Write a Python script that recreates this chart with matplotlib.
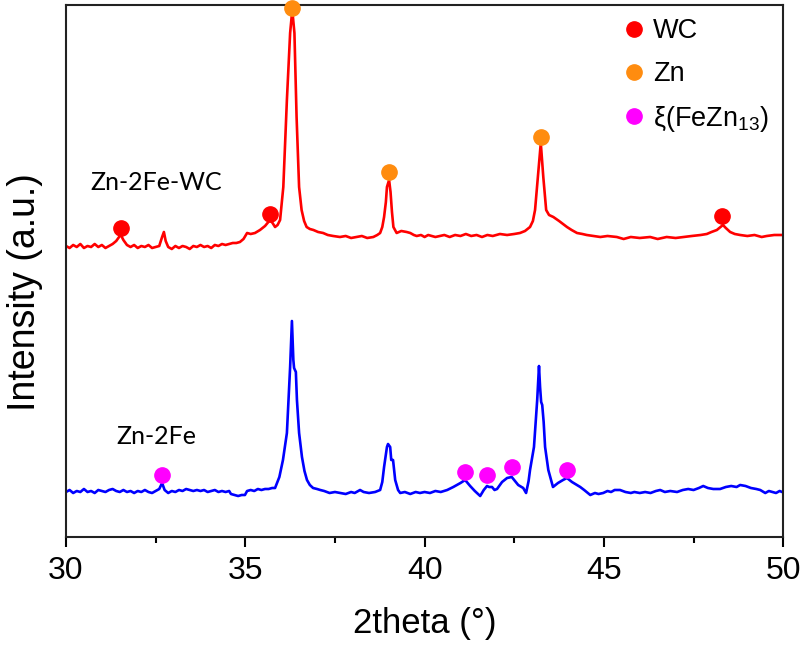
#!/usr/bin/env python3
import matplotlib
matplotlib.use('Agg')
import matplotlib.pyplot as plt
from matplotlib.ticker import MultipleLocator

plt.rcParams['font.family'] = ['Liberation Sans', 'DejaVu Sans']
plt.rcParams['mathtext.fontset'] = 'custom'
plt.rcParams['mathtext.rm'] = 'Liberation Sans'
plt.rcParams['mathtext.default'] = 'regular'

# XRD patterns (2theta in degrees, intensity in a.u.)
red_x = [30.00, 30.10, 30.20, 30.30, 30.40, 30.50, 30.60, 30.70, 30.80, 30.90,
         31.00, 31.10, 31.20, 31.30, 31.40, 31.48, 31.53, 31.60, 31.70, 31.80,
         31.90, 32.00, 32.10, 32.20, 32.30, 32.40, 32.50, 32.60, 32.68, 32.73,
         32.78, 32.85, 32.95, 33.05, 33.15, 33.25, 33.35, 33.45, 33.55, 33.65,
         33.75, 33.85, 33.95, 34.05, 34.15, 34.25, 34.35, 34.45, 34.55, 34.65,
         34.75, 34.85, 34.95, 35.05, 35.15, 35.27, 35.41, 35.55, 35.62, 35.69,
         35.76, 35.83, 35.90, 35.97, 36.06, 36.16, 36.25, 36.31, 36.37, 36.43,
         36.50, 36.57, 36.64, 36.71, 36.80, 36.90, 37.03, 37.17, 37.30, 37.45,
         37.64, 37.80, 37.95, 38.10, 38.25, 38.40, 38.57, 38.68, 38.76, 38.82,
         38.87, 38.92, 38.95, 39.01, 39.05, 39.09, 39.13, 39.22, 39.35, 39.50,
         39.60, 39.70, 39.78, 39.90, 40.00, 40.10, 40.20, 40.30, 40.43, 40.55,
         40.70, 40.85, 41.00, 41.15, 41.30, 41.45, 41.60, 41.75, 41.90, 42.10,
         42.30, 42.50, 42.66, 42.80, 42.94, 43.02, 43.08, 43.16, 43.24, 43.31,
         43.39, 43.47, 43.59, 43.75, 43.90, 43.97, 44.10, 44.25, 44.40, 44.52,
         44.70, 44.90, 45.10, 45.36, 45.55, 45.75, 46.00, 46.29, 46.50, 46.75,
         47.00, 47.22, 47.45, 47.70, 47.87, 48.00, 48.15, 48.25, 48.32, 48.40,
         48.52, 48.65, 48.80, 49.00, 49.20, 49.40, 49.54, 49.75, 49.96]
red_y = [291, 289, 292, 290, 293, 289, 291, 290, 293, 290,
         292, 289, 291, 293, 296, 300, 302, 297, 292, 290,
         292, 289, 291, 290, 292, 289, 290, 291, 300, 305,
         296, 290, 288, 291, 289, 291, 290, 288, 291, 290,
         292, 290, 291, 289, 292, 291, 293, 292, 293, 294,
         294, 295, 298, 304, 303, 304, 307, 311, 314, 317,
         314, 310, 312, 317, 350, 437, 504, 527, 504, 420,
         350, 327, 316, 310, 308, 307, 305, 304, 302, 301,
         300, 301, 299, 300, 301, 299, 300, 302, 304, 310,
         320, 335, 350, 357, 345, 325, 310, 304, 306, 305,
         304, 302, 301, 302, 300, 302, 301, 300, 301, 302,
         300, 302, 301, 303, 301, 302, 300, 302, 301, 303,
         302, 303, 304, 306, 310, 316, 327, 360, 394, 360,
         327, 322, 320, 316, 312, 310, 307, 304, 303, 302,
         301, 300, 301, 300, 298, 300, 299, 300, 298, 300,
         299, 300, 301, 302, 303, 305, 307, 310, 312, 309,
         305, 303, 302, 301, 302, 300, 301, 302, 302]

blue_x = [30.00, 30.10, 30.20, 30.30, 30.40, 30.50, 30.60, 30.70, 30.80, 30.90,
          31.00, 31.10, 31.20, 31.30, 31.40, 31.50, 31.60, 31.70, 31.80, 31.90,
          32.00, 32.10, 32.20, 32.30, 32.40, 32.50, 32.60, 32.68, 32.75, 32.85,
          32.95, 33.05, 33.15, 33.25, 33.35, 33.45, 33.55, 33.65, 33.75, 33.85,
          33.95, 34.05, 34.15, 34.25, 34.35, 34.45, 34.55, 34.60, 34.70, 34.80,
          34.90, 34.99, 35.05, 35.15, 35.25, 35.35, 35.45, 35.55, 35.65, 35.75,
          35.83, 35.95, 36.05, 36.16, 36.25, 36.30, 36.34, 36.36, 36.41, 36.44,
          36.50, 36.58, 36.65, 36.72, 36.80, 36.89, 37.00, 37.09, 37.20, 37.35,
          37.50, 37.65, 37.80, 37.95, 38.05, 38.15, 38.20, 38.30, 38.45, 38.62,
          38.76, 38.82, 38.87, 38.95, 38.98, 39.04, 39.07, 39.12, 39.18, 39.26,
          39.32, 39.45, 39.60, 39.75, 39.87, 40.00, 40.15, 40.30, 40.45, 40.63,
          40.80, 40.90, 41.00, 41.13, 41.27, 41.40, 41.55, 41.65, 41.74, 41.80,
          41.88, 41.95, 42.02, 42.16, 42.30, 42.43, 42.52, 42.61, 42.75, 42.83,
          42.90, 42.94, 43.05, 43.14, 43.19, 43.22, 43.25, 43.28, 43.32, 43.36,
          43.45, 43.58, 43.72, 43.86, 43.97, 44.11, 44.20, 44.34, 44.45, 44.62,
          44.75, 44.85, 44.98, 45.10, 45.20, 45.30, 45.45, 45.60, 45.75, 45.85,
          46.00, 46.15, 46.30, 46.45, 46.57, 46.70, 46.85, 47.04, 47.20, 47.35,
          47.50, 47.65, 47.77, 47.90, 48.05, 48.24, 48.40, 48.55, 48.70, 48.80,
          48.95, 49.10, 49.25, 49.36, 49.50, 49.60, 49.70, 49.80, 49.90, 49.97]
blue_y = [45, 47, 44, 46, 45, 48, 45, 46, 44, 47,
          46, 45, 47, 48, 46, 45, 47, 45, 46, 44,
          46, 45, 47, 45, 44, 46, 48, 54, 47, 44,
          46, 45, 47, 46, 48, 47, 46, 47, 46, 47,
          45, 46, 47, 45, 46, 45, 46, 43, 42, 41,
          42, 42, 46, 47, 46, 48, 47, 48, 48, 49,
          49, 60, 77, 104, 170, 216, 177, 169, 165, 137,
          104, 80, 66, 57, 52, 49, 48, 47, 46, 44,
          45, 44, 43, 45, 44, 46, 47, 45, 44, 45,
          47, 55, 70, 90, 93, 90, 77, 77, 57, 47,
          44, 45, 43, 45, 44, 45, 44, 46, 45, 47,
          50, 52, 54, 57, 51, 46, 41, 47, 51, 50,
          50, 47, 48, 55, 59, 60, 56, 52, 49, 44,
          56, 67, 90, 137, 171, 150, 135, 132, 115, 90,
          67, 50, 54, 57, 59, 55, 53, 50, 47, 42,
          44, 43, 44, 46, 45, 47, 47, 45, 44, 45,
          44, 45, 44, 46, 47, 45, 46, 45, 47, 48,
          47, 49, 51, 49, 48, 48, 50, 51, 50, 52,
          51, 49, 48, 47, 44, 46, 45, 44, 46, 45]

# phase markers
wc_x = [31.53, 35.70, 48.30]
wc_y = [309, 323, 321]
zn_x = [36.30, 39.01, 43.25]
zn_y = [529, 365, 400]
fezn_x = [32.68, 41.13, 41.74, 42.44, 43.97]
fezn_y = [62, 65, 62, 70, 67]

fig = plt.figure(figsize=(8, 6.48), dpi=100)
ax = fig.add_axes([0.0825, 0.1713, 0.8965, 0.8210])

ax.plot(red_x, red_y, color='#ff0000', lw=1.9, zorder=2)
ax.plot(blue_x, blue_y, color='#0000ff', lw=1.9, zorder=2)

ms = 11
ax.plot(wc_x, wc_y, 'o', color='#ff0000', ms=ms, label='WC', zorder=3, clip_on=False)
ax.plot(zn_x, zn_y, 'o', color='#ff8c0f', ms=ms, label='Zn', zorder=3, clip_on=False)
ax.plot(fezn_x, fezn_y, 'o', color='#ff00ff', ms=ms, label=r'ξ(FeZn$_{13}$)', zorder=3, clip_on=False)

ax.text(32.51, 354, 'Zn-2Fe-WC', ha='center', va='center', fontsize=18,
        family=['Lato', 'DejaVu Sans'])
ax.text(32.51, 100, 'Zn-2Fe', ha='center', va='center', fontsize=18,
        family=['Lato', 'DejaVu Sans'])

ax.set_xlim(30, 50)
ax.set_ylim(0, 532)
ax.set_yticks([])
ax.xaxis.set_major_locator(MultipleLocator(5))
ax.xaxis.set_minor_locator(MultipleLocator(2.5))
ax.tick_params(axis='x', which='major', direction='out', length=7, width=1.5,
               labelsize=23, pad=7)
ax.tick_params(axis='x', which='minor', direction='out', length=4.5, width=1.5)
for s in ax.spines.values():
    s.set_linewidth(1.5)
    s.set_color('#222222')

ax.set_xlabel('2theta (°)', fontsize=25, labelpad=15)
ax.set_ylabel('Intensity (a.u.)', fontsize=27)
ax.yaxis.set_label_coords(-0.032, 0.46)

ax.legend(loc='upper left', bbox_to_anchor=(0.773, 0.975), frameon=False,
          handlelength=1.0, handletextpad=0.2, labelspacing=0.62,
          borderpad=0, borderaxespad=0, fontsize=19.5, numpoints=1)

fig.savefig('out.png', dpi=100)
